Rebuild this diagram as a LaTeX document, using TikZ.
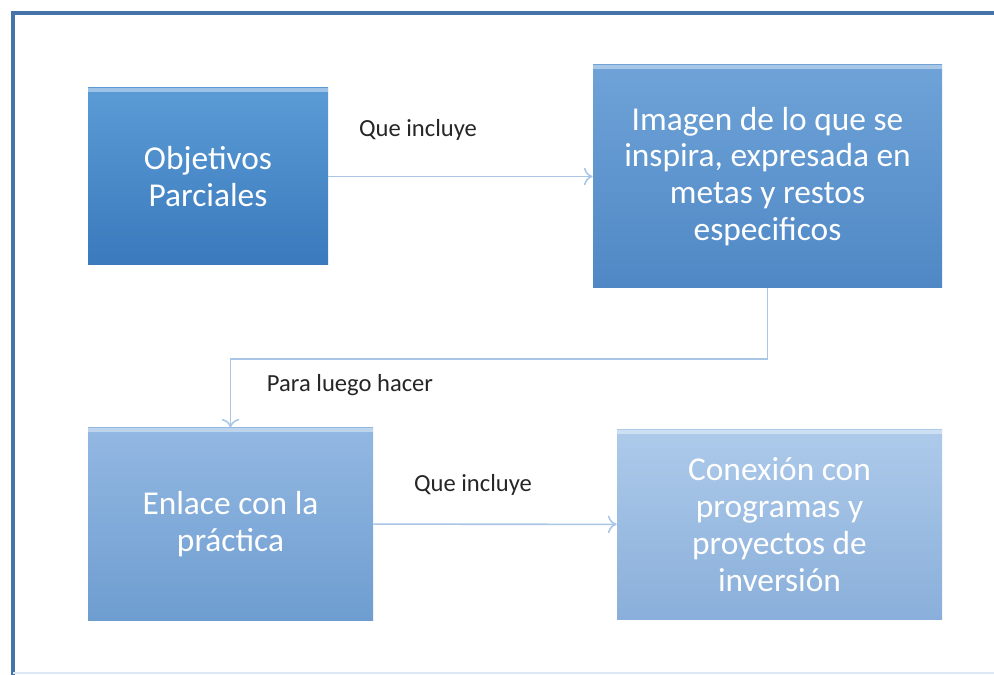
\documentclass[tikz,border=0pt]{standalone}
\usepackage{fontspec}
\setmainfont{Carlito}
\usetikzlibrary{arrows.meta}
\definecolor{frameblue}{HTML}{4673A8}
\definecolor{linkblue}{HTML}{A9C6E6}
\definecolor{labelgray}{HTML}{262626}
\definecolor{objtop}{HTML}{5B9BD5}
\definecolor{objbot}{HTML}{3A7ABD}
\definecolor{imgtop}{HTML}{6FA3D8}
\definecolor{imgbot}{HTML}{4F88C5}
\definecolor{enltop}{HTML}{93B8E2}
\definecolor{enlbot}{HTML}{6E9DD0}
\definecolor{contop}{HTML}{ADCAEA}
\definecolor{conbot}{HTML}{8AAFDA}
\tikzset{
    box/.style={rectangle, inner sep=4pt, align=center, text=white,
        font=\fontsize{19}{21}\selectfont,
        path picture={\fill[white,opacity=0.4] (path picture bounding box.north west) rectangle ([yshift=-2.5pt]path picture bounding box.north east);}},
    link/.style={draw=linkblue, line width=0.9pt, -{To[length=5pt,width=10pt]}},
    tag/.style={text=labelgray, font=\fontsize{14}{16}\selectfont}
}
\begin{document}
\begin{tikzpicture}[x=0.02cm, y=-0.02cm]
        \useasboundingbox (0,0) rectangle (994,675);

        % Frame of the slide
        \draw[frameblue, line width=2.4pt] (13,675) -- (13,13) -- (994,13);
        \draw[linkblue!40, line width=0.8pt] (13,673) -- (994,673);

        % Boxes
        \node[box, minimum width=240*0.02cm, minimum height=177*0.02cm,
            top color=objtop, bottom color=objbot] (obj) at (208,176.5) {Objetivos\\Parciales};
        \node[box, minimum width=349*0.02cm, minimum height=223*0.02cm,
            top color=imgtop, bottom color=imgbot] (img) at (767.5,176.5) {Imagen de lo que se\\inspira, expresada en\\metas y restos\\especificos};
        \node[box, minimum width=285*0.02cm, minimum height=192*0.02cm,
            top color=enltop, bottom color=enlbot] (enl) at (230.5,524) {Enlace con la\\práctica};
        \node[box, minimum width=325*0.02cm, minimum height=189*0.02cm,
            top color=contop, bottom color=conbot] (con) at (779.5,524.5) {Conexión con\\programas y\\proyectos de\\inversión};

        % Arrows
        \coordinate (turn) at (500,359);
        \draw[link] (obj) -- (img);
        \draw[link] (img.south) |- (turn) -| (enl.north);
        \draw[link] (enl) -- (con);

        % Labels on the arrows
        \node[tag] (t1) at (418,130) {Que incluye};
        \node[tag] (t2) at (350,385) {Para luego hacer};
        \node[tag] (t3) at (473,485) {Que incluye};

    \end{tikzpicture}
\end{document}
